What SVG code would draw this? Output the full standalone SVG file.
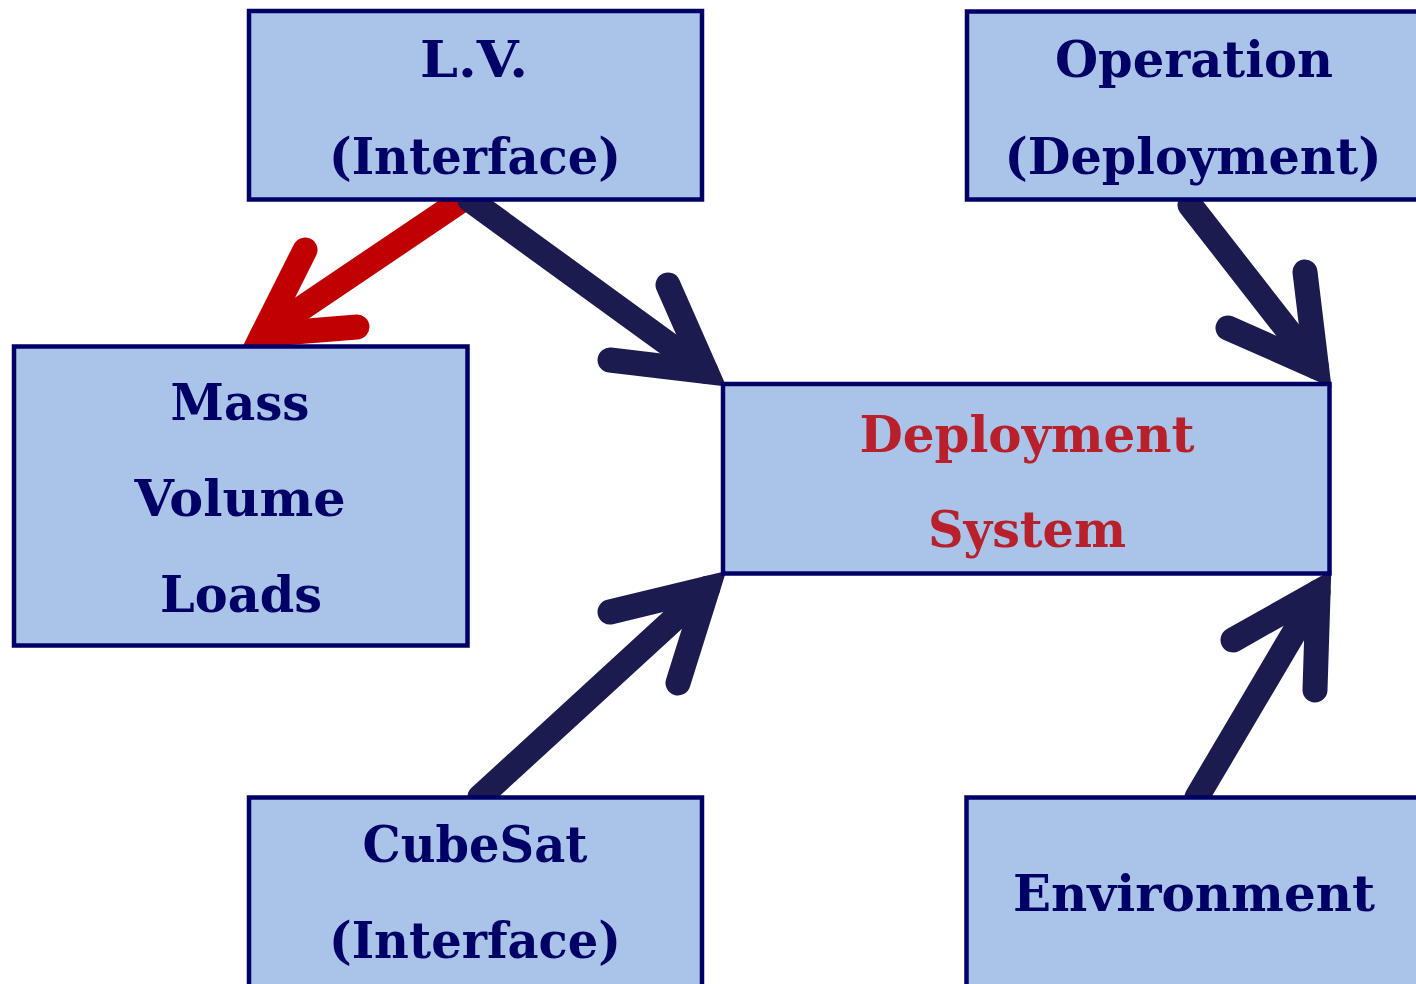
<svg xmlns="http://www.w3.org/2000/svg" width="1416" height="984" viewBox="0 0 1416 984">
<style>
.box{fill:#A9C4E8;stroke:#000066;stroke-width:4.5}
.t{font-family:"DejaVu Serif","Liberation Serif",serif;font-weight:bold;font-size:50px;fill:#000066;text-anchor:middle}
.r{fill:#B8202B}
.a{fill:none;stroke:#1C1B4F;stroke-width:25;stroke-linecap:round;stroke-linejoin:miter;stroke-miterlimit:10}
.ar{stroke:#C00000}
</style>
<rect width="1416" height="984" fill="#FFFFFF"/>
<g id="connectors">
<path class="a ar" d="M462,200 L262.6,334.6"/>
<path class="a ar" d="M305,250 L262.6,334.6 L357,327"/>
<path class="a" d="M470,200 L706.1,371.5"/>
<path class="a" d="M668,285 L706.1,371.5 L610,360"/>
<path class="a" d="M1190,205 L1316.5,367.1"/>
<path class="a" d="M1305,272 L1316.5,367.1 L1228,328"/>
<path class="a" d="M480,797 L707.7,588.3"/>
<path class="a" d="M610,612 L707.7,588.3 L678,683"/>
<path class="a" d="M1197,797 L1318.1,592"/>
<path class="a" d="M1233,640 L1318.1,592 L1315,690"/>
</g>
<g id="node-lv">
<rect class="box" x="249" y="11" width="453" height="188.5"/>
<text class="t" x="474" y="77" textLength="108" lengthAdjust="spacingAndGlyphs">L.V.</text>
<text class="t" x="475" y="174" textLength="292" lengthAdjust="spacingAndGlyphs">(Interface)</text>
</g>
<g id="node-operation">
<rect class="box" x="967" y="11.5" width="460" height="188"/>
<text class="t" x="1194" y="77" textLength="278" lengthAdjust="spacingAndGlyphs">Operation</text>
<text class="t" x="1193" y="174" textLength="377" lengthAdjust="spacingAndGlyphs">(Deployment)</text>
</g>
<g id="node-mass">
<rect class="box" x="14" y="346.5" width="453.5" height="299"/>
<text class="t" x="240" y="420" textLength="139" lengthAdjust="spacingAndGlyphs">Mass</text>
<text class="t" x="240" y="516" textLength="211" lengthAdjust="spacingAndGlyphs">Volume</text>
<text class="t" x="241" y="612" textLength="162" lengthAdjust="spacingAndGlyphs">Loads</text>
</g>
<g id="node-deployment">
<rect class="box" x="723" y="384" width="606.5" height="189.5"/>
<text class="t r" x="1027" y="452" textLength="335" lengthAdjust="spacingAndGlyphs">Deployment</text>
<text class="t r" x="1027" y="547" textLength="198" lengthAdjust="spacingAndGlyphs">System</text>
</g>
<g id="node-cubesat">
<rect class="box" x="249" y="797.5" width="453" height="200"/>
<text class="t" x="475" y="862" textLength="225" lengthAdjust="spacingAndGlyphs">CubeSat</text>
<text class="t" x="475" y="958" textLength="292" lengthAdjust="spacingAndGlyphs">(Interface)</text>
</g>
<g id="node-environment">
<rect class="box" x="966.5" y="797.5" width="460" height="200"/>
<text class="t" x="1194" y="911" textLength="362" lengthAdjust="spacingAndGlyphs">Environment</text>
</g>
</svg>
